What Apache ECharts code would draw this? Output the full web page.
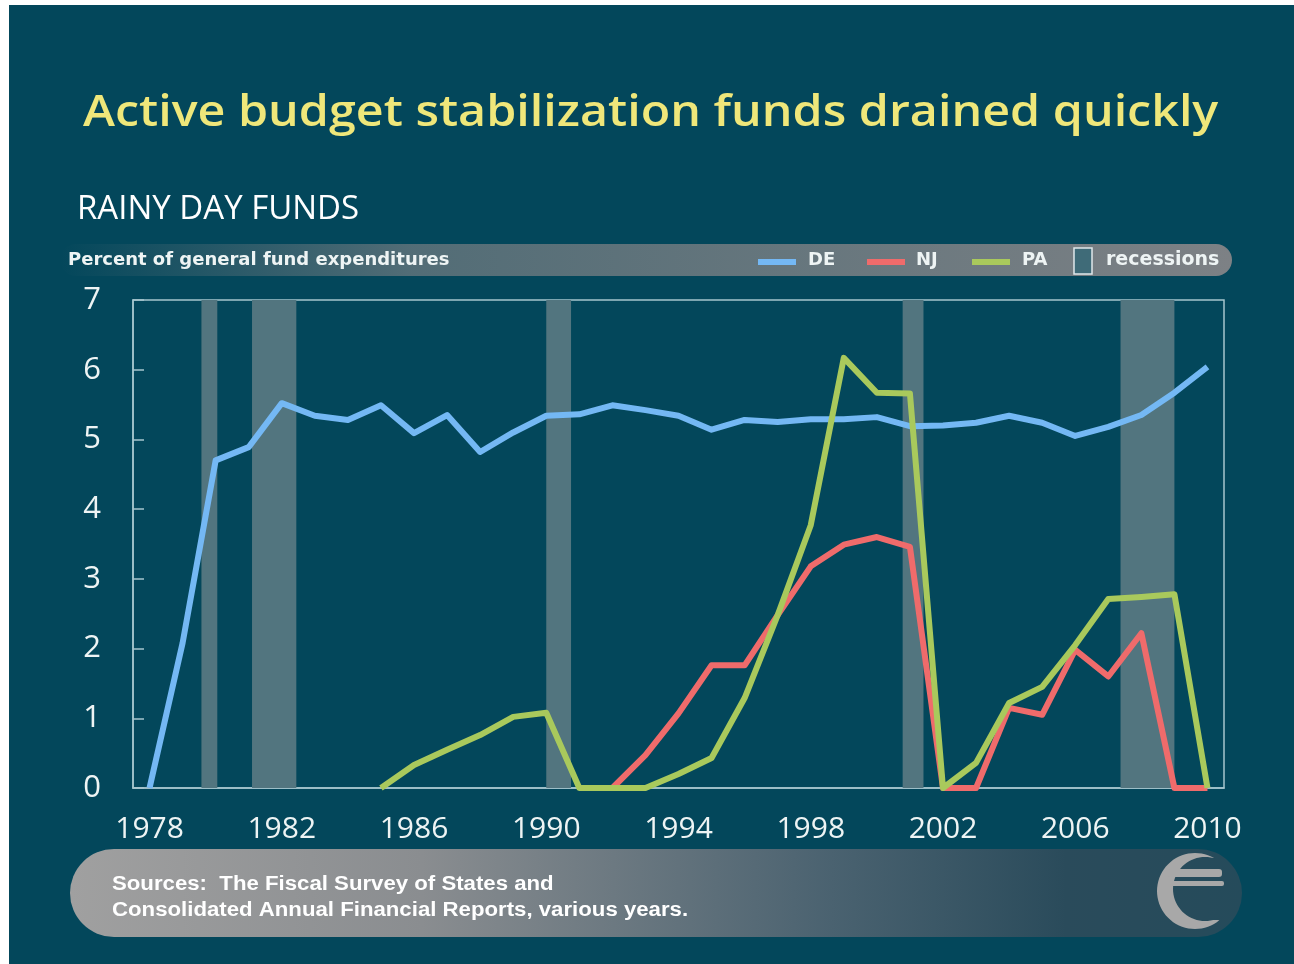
<!DOCTYPE html>
<html>
<head>
<meta charset="utf-8">
<script src="https://cdn.jsdelivr.net/npm/echarts@6/dist/echarts.min.js"></script>
<style>
html,body{margin:0;padding:0;background:#ffffff;}
#chart{width:1294px;height:964px;}
</style>
</head>
<body>
<div id="chart"></div>
<script>
// ---- data ----
var years = ['1978','1979','1980','1981','1982','1983','1984','1985','1986','1987','1988','1989','1990','1991','1992','1993','1994','1995','1996','1997','1998','1999','2000','2001','2002','2003','2004','2005','2006','2007','2008','2009','2010'];
var DE = [0, 2.08, 4.70, 4.89, 5.52, 5.34, 5.28, 5.49, 5.09, 5.35, 4.82, 5.10, 5.34, 5.36, 5.49, 5.42, 5.34, 5.14, 5.28, 5.25, 5.29, 5.29, 5.32, 5.19, 5.20, 5.24, 5.34, 5.24, 5.05, 5.18, 5.35, 5.67, 6.04];
var NJ = [null,null,null,null,null,null,null,null,null,null,null,null,null,null, 0, 0.47, 1.07, 1.76, 1.76, 2.48, 3.18, 3.49, 3.60, 3.46, 0, 0, 1.15, 1.05, 1.98, 1.60, 2.22, 0, 0];
var PA = [null,null,null,null,null,null,null, 0, 0.33, 0.55, 0.76, 1.02, 1.08, 0, 0, 0, 0.20, 0.43, 1.29, 2.48, 3.77, 6.17, 5.67, 5.66, 0, 0.36, 1.22, 1.45, 2.05, 2.71, 2.74, 2.78, 0];
var recessionStart = [1979.57, 1981.10, 1990.00, 2000.78, 2007.37];
var recessionEnd   = [1980.05, 1982.44, 1990.75, 2001.41, 2009.00];
var yTicks = [0,1,2,3,4,5,6,7];

var BG = '#03475b';
var AXIS = '#a6c6ce';
var TXT = '#eef4f4';
var C_DE = '#74b8f4', C_NJ = '#ef6b6b', C_PA = '#a9c95c', C_REC = '#52757f';

var chart = echarts.init(document.getElementById('chart'));
var G = echarts.graphic;

// logo crescent outline (decoration)
function crescent() {
  var pts = [], a, d = Math.PI / 180;
  for (a = -60; a >= -310; a -= 5) pts.push([1195 + 38 * Math.cos(a * d), 891 + 38 * Math.sin(a * d)]);
  for (a = 75; a <= 285; a += 5) pts.push([1205 + 32 * Math.cos(a * d), 889 + 32 * Math.sin(a * d)]);
  return pts;
}

var option = {
  backgroundColor: BG,
  animation: false,
  grid: {left:133, right:70, top:300, bottom:176, show:true, borderColor:AXIS, borderWidth:1.5, backgroundColor:'transparent'},
  xAxis: [
    {type:'category', data:years, boundaryGap:true,
     axisLine:{lineStyle:{color:AXIS, width:1.5}},
     axisTick:{interval:0, length:10, lineStyle:{color:AXIS, width:1.5}},
     axisLabel:{interval:3, fontSize:30, color:TXT, margin:26, fontFamily:'Open Sans'},
     splitLine:{show:false}},
    {type:'value', min:1977.5, max:2010.5, show:false}
  ],
  yAxis: {type:'value', min:yTicks[0], max:yTicks[yTicks.length-1], interval:1,
     axisLine:{show:true, lineStyle:{color:AXIS, width:1.5}},
     axisTick:{show:true, inside:true, length:11, lineStyle:{color:AXIS, width:1.5}},
     axisLabel:{fontSize:31, color:TXT, margin:32, fontFamily:'Open Sans'},
     splitLine:{show:false}},
  series: [
    {name:'recessions', type:'line', xAxisIndex:1, data:[], z:1, silent:true,
     markArea:{silent:true, itemStyle:{color:C_REC},
       data: recessionStart.map(function(s,i){return [{xAxis:s},{xAxis:recessionEnd[i]}];})}},
    {name:'DE', type:'line', data:DE, symbol:'none', z:3, lineStyle:{color:C_DE, width:6, join:'round'}, itemStyle:{color:C_DE}},
    {name:'NJ', type:'line', data:NJ, symbol:'none', z:4, lineStyle:{color:C_NJ, width:6, join:'round'}, itemStyle:{color:C_NJ}},
    {name:'PA', type:'line', data:PA, symbol:'none', z:5, lineStyle:{color:C_PA, width:6, join:'round'}, itemStyle:{color:C_PA}}
  ],
  graphic: [
    {type:'rect', shape:{x:0,y:0,width:9,height:964}, style:{fill:'#ffffff'}, z:100},
    {type:'rect', shape:{x:0,y:0,width:1294,height:5}, style:{fill:'#ffffff'}, z:100},
    {type:'text', x:83, y:113, scaleX:1.10, style:{text:'Active budget stabilization funds drained quickly', fill:'#efe77a', font:'600 44px "Open Sans"', verticalAlign:'middle'}},
    {type:'text', x:77, y:210, style:{text:'RAINY DAY FUNDS', fill:'#ffffff', font:'33px "Open Sans"', verticalAlign:'middle'}},
    // legend bar
    {type:'rect', shape:{x:60,y:244,width:1172,height:32,r:16}, z:-1,
     style:{fill:new G.LinearGradient(0,0,1,0,[{offset:0,color:'rgba(125,129,133,0)'},{offset:0.3,color:'rgba(125,129,133,0.65)'},{offset:1,color:'rgba(125,129,133,1)'}])}},
    {type:'text', x:68, y:260, style:{text:'Percent of general fund expenditures', fill:TXT, font:'bold 18px "DejaVu Sans"', verticalAlign:'middle'}},
    {type:'rect', shape:{x:758,y:259,width:38,height:6}, style:{fill:C_DE}},
    {type:'text', x:808, y:260, style:{text:'DE', fill:TXT, font:'bold 18px "DejaVu Sans"', verticalAlign:'middle'}},
    {type:'rect', shape:{x:867,y:259,width:38,height:6}, style:{fill:C_NJ}},
    {type:'text', x:916, y:260, style:{text:'NJ', fill:TXT, font:'bold 18px "DejaVu Sans"', verticalAlign:'middle'}},
    {type:'rect', shape:{x:972,y:259,width:38,height:6}, style:{fill:C_PA}},
    {type:'text', x:1022, y:260, style:{text:'PA', fill:TXT, font:'bold 18px "DejaVu Sans"', verticalAlign:'middle'}},
    {type:'rect', shape:{x:1074,y:248,width:18,height:26}, style:{fill:'#3f6b78', stroke:'#dfe8ea', lineWidth:1.5}},
    {type:'text', x:1106, y:260, style:{text:'recessions', fill:TXT, font:'bold 19px "DejaVu Sans"', verticalAlign:'middle'}},
    // source bar
    {type:'rect', shape:{x:70,y:849,width:1172,height:88,r:44}, z:-1,
     style:{fill:new G.LinearGradient(0,0,1,0,[{offset:0,color:'#a0a0a0'},{offset:0.3,color:'#8a8d90'},{offset:0.65,color:'#4a6270'},{offset:0.85,color:'#2a4b5b'},{offset:1,color:'#254b5b'}])}},
    {type:'text', x:112, y:884, scaleX:1.11, style:{text:'Sources:  The Fiscal Survey of States and', fill:'#ffffff', font:'bold 20px "Liberation Sans"', verticalAlign:'middle'}},
    {type:'text', x:112, y:910, scaleX:1.11, style:{text:'Consolidated Annual Financial Reports, various years.', fill:'#ffffff', font:'bold 20px "Liberation Sans"', verticalAlign:'middle'}},
    // logo
    {type:'polygon', shape:{points:crescent()}, style:{fill:'#a8a8a8'}},
    {type:'rect', shape:{x:1167,y:869,width:55,height:8,r:3}, style:{fill:'#a8a8a8'}},
    {type:'rect', shape:{x:1166,y:881,width:58,height:5,r:2}, style:{fill:'#a8a8a8'}}
  ]
};
chart.setOption(option);
</script>
</body>
</html>
